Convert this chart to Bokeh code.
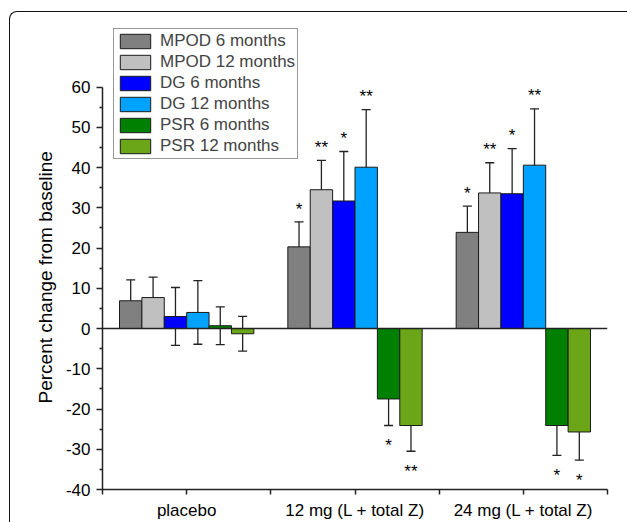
from bokeh.plotting import figure
from bokeh.models import (ColumnDataSource, Range1d, FixedTicker, Title, InlineStyleSheet,
                          Whisker, TeeHead, Span, Legend, LegendItem)
from bokeh.core.properties import value
from bokeh.embed import file_html
from bokeh.resources import INLINE

# ---------------- data ----------------
groups = ["placebo", "12 mg (L + total Z)", "24 mg (L + total Z)"]
series_names = ["MPOD 6 months", "MPOD 12 months", "DG 6 months",
                "DG 12 months", "PSR 6 months", "PSR 12 months"]

mpod6 = [6.9, 20.3, 23.9]
mpod12 = [7.7, 34.5, 33.7]
dg6 = [3.0, 31.7, 33.5]
dg12 = [4.0, 40.1, 40.6]
psr6 = [0.7, -17.5, -24.1]
psr12 = [-1.3, -24.1, -25.7]

mpod6_err = [5.2, 6.2, 6.5]
mpod12_err = [5.1, 7.3, 7.5]
dg6_err = [7.2, 12.3, 11.2]
dg12_err = [7.9, 14.3, 14.0]
psr6_err = [4.7, 6.6, 7.4]
psr12_err = [4.3, 6.4, 7.0]

mpod6_sig = ["", "*", "*"]
mpod12_sig = ["", "**", "**"]
dg6_sig = ["", "*", "*"]
dg12_sig = ["", "**", "**"]
psr6_sig = ["", "*", "*"]
psr12_sig = ["", "**", "*"]

y_ticks = [-40, -30, -20, -10, 0, 10, 20, 30, 40, 50, 60]
y_minor = [-35, -25, -15, -5, 5, 15, 25, 35, 45, 55]
y_title = "Percent change from baseline"

series_vals = [mpod6, mpod12, dg6, dg12, psr6, psr12]
series_errs = [mpod6_err, mpod12_err, dg6_err, dg12_err, psr6_err, psr12_err]
series_sigs = [mpod6_sig, mpod12_sig, dg6_sig, dg12_sig, psr6_sig, psr12_sig]
colors = ["#808080", "#C0C0C0", "#0000FF", "#00A2FF", "#008000", "#6AA617"]

FONT = "Liberation Sans"
FRAME_L, FRAME_B, FRAME_T = 102, 490, 17

p = figure(width=627, height=522, output_backend="svg", toolbar_location=None,
           x_range=Range1d(0.5, 3.5), y_range=Range1d(-40, 77.3),
           min_border_left=FRAME_L, min_border_right=20, min_border_top=FRAME_T,
           min_border_bottom=522 - FRAME_B)
p.outline_line_color = None
p.grid.visible = False
p.background_fill_color = "white"
p.border_fill_color = "white"

bar_w = 0.133
items = []
for i, (name, vals, errs, sigs, col) in enumerate(zip(series_names, series_vals,
                                                      series_errs, series_sigs, colors)):
    xs = [g + 1 + (i - 2.5) * bar_w for g in range(len(groups))]
    upper = [v + e for v, e in zip(vals, errs)]
    lower = [v - e for v, e in zip(vals, errs)]
    star_y = [v + e + 3.2 if v >= 0 else v - e - 5.0 for v, e in zip(vals, errs)]
    src = ColumnDataSource(dict(x=xs, top=vals, upper=upper, lower=lower,
                                sy=star_y, sig=sigs))
    r = p.vbar(x="x", top="top", bottom=0, width=bar_w, source=src,
               fill_color=col, line_color="#1a1a1a", line_width=1)
    items.append(LegendItem(label=name, renderers=[r]))
    w = Whisker(base="x", upper="upper", lower="lower", source=src,
                line_color="#222222", line_width=1.3,
                upper_head=TeeHead(size=9, line_color="#222222", line_width=1.3),
                lower_head=TeeHead(size=9, line_color="#222222", line_width=1.3))
    p.add_layout(w)
    p.text(x="x", y="sy", text="sig", source=src, text_align="center",
           text_baseline="middle", text_font=value(FONT), text_font_size="17px",
           text_color="black")

p.add_layout(Span(location=0, dimension="width", line_color="#222222", line_width=1.5))

# axes
x_ticks = [0.5, 1, 1.5, 2, 2.5, 3, 3.5]
p.xaxis.ticker = FixedTicker(ticks=x_ticks)
overrides = {t: "" for t in [0.5, 1.5, 2.5, 3.5]}
overrides.update({1: groups[0], 2: groups[1], 3: groups[2]})
p.xaxis.major_label_overrides = overrides
p.yaxis.ticker = FixedTicker(ticks=y_ticks, minor_ticks=y_minor)
p.yaxis.major_label_overrides = {t: str(t) for t in y_ticks}
p.yaxis.bounds = (-40, 60)
for ax in (p.xaxis[0], p.yaxis[0]):
    ax.axis_line_color = "#222222"
    ax.axis_line_width = 1.5
    ax.major_tick_line_color = "#222222"
    ax.major_tick_line_width = 1.5
    ax.minor_tick_line_color = "#222222"
    ax.minor_tick_line_width = 1.5
    ax.major_tick_in = 0
    ax.major_tick_out = 6
    ax.minor_tick_in = 0
    ax.minor_tick_out = 3
    ax.major_label_text_font = FONT
    ax.major_label_text_font_size = "17px"
    ax.major_label_text_color = "black"
    ax.major_label_standoff = 6
p.xaxis.minor_tick_line_color = None
p.xaxis.major_tick_out = 5

# y-axis title as a left-side title so it can be positioned along the axis
p.add_layout(Title(text=y_title, align="left", offset=86, standoff=14,
                   text_font=FONT, text_font_size="19px", text_font_style="normal",
                   text_color="black"), "left")

legend = Legend(items=items, location="top_left", margin=11, padding=2, spacing=1,
                glyph_width=38, glyph_height=18, label_height=18, label_standoff=6,
                label_text_font=FONT, label_text_font_size="17px",
                border_line_color="#333333", border_line_width=1.2,
                background_fill_alpha=1)
p.add_layout(legend, "center")

# outer panel frame (left and top edges with a rounded corner)
p.stylesheets = [InlineStyleSheet(css="""
:host::after {
  content: "";
  position: absolute;
  left: 8.5px; top: 10.5px; width: 618.5px; height: 511.5px;
  box-sizing: border-box;
  border-left: 1.5px solid #111;
  border-top: 1.5px solid #111;
  border-top-left-radius: 8px;
  pointer-events: none;
  z-index: 100;
}
""")]

open("out.html", "w").write(file_html(p, INLINE))
